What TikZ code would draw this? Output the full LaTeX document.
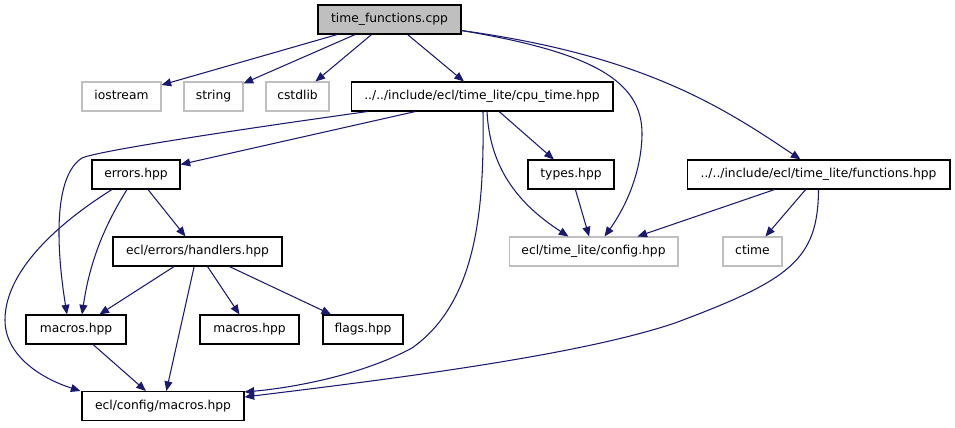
\documentclass[tikz,border=0pt]{standalone}
\usepackage{fontspec}
\setmainfont{DejaVu Sans}
\usetikzlibrary{arrows.meta,calc}
\definecolor{edge}{HTML}{191970}
\definecolor{rootfill}{HTML}{BFBFBF}
\definecolor{sysline}{HTML}{BFBFBF}
\tikzset{
  hdr/.style={draw=black,fill=white,line width=0.6pt,minimum height=0.58cm,inner sep=0pt,
    text height=5.3pt,text depth=1.6pt,font=\fontsize{7}{8}\selectfont},
  sys/.style={hdr,draw=sysline},
  src/.style={hdr,fill=rootfill},
  dep/.style={-{Triangle[length=5.5pt,width=4.5pt]},edge,line width=0.6pt},
}
\begin{document}
\begin{tikzpicture}[x=0.02cm,y=-0.02cm]
\useasboundingbox (0,0) rectangle (955,427);
% row 0
\node[src,minimum width=2.86cm] (root) at (389.5,19.5) {time\_functions.cpp};
% row 1
\node[sys,minimum width=1.58cm] (iostr) at (121.5,96.5) {iostream};
\node[sys,minimum width=1.18cm] (str) at (213.5,96.5) {string};
\node[sys,minimum width=1.26cm] (cstd) at (297.5,96.5) {cstdlib};
\node[hdr,minimum width=5.24cm] (cpu) at (482,96.5) {../../include/ecl/time\_lite/cpu\_time.hpp};
% row 2
\node[hdr,minimum width=1.76cm] (err) at (136,174.5) {errors.hpp};
\node[hdr,minimum width=1.72cm] (typ) at (571,174.5) {types.hpp};
\node[hdr,minimum width=5.26cm] (fun) at (818.5,174.5) {../../include/ecl/time\_lite/functions.hpp};
% row 3
\node[hdr,minimum width=3.38cm] (hnd) at (197.5,251.5) {ecl/errors/handlers.hpp};
\node[sys,minimum width=3.38cm] (conf) at (593.5,251.5) {ecl/time\_lite/config.hpp};
\node[sys,minimum width=1.18cm] (ctm) at (752.5,251.5) {ctime};
% row 4
\node[hdr,minimum width=2.0cm] (mcl) at (76,329.5) {macros.hpp};
\node[hdr,minimum width=1.98cm] (mcm) at (249.5,329.5) {macros.hpp};
\node[hdr,minimum width=1.6cm] (flg) at (363,329.5) {flags.hpp};
% row 5
\node[hdr,minimum width=3.24cm] (cfm) at (163,406) {ecl/config/macros.hpp};

% straight edges
\draw[dep] (root) -- (iostr);
\draw[dep] (root) -- (str);
\draw[dep] (root) -- (cstd);
\draw[dep] (root) -- (cpu);
\draw[dep] (cpu) -- (err);
\draw[dep] (cpu) -- (typ);
\draw[dep] (typ) -- (conf);
\draw[dep] (err) -- (hnd);
\draw[dep] (hnd) -- (mcl);
\draw[dep] (hnd) -- (cfm);
\draw[dep] (hnd) -- (mcm);
\draw[dep] (hnd) -- (flg);
\draw[dep] (mcl) -- (cfm);
\draw[dep] (fun) -- (conf);
\draw[dep] (fun) -- (ctm);

% curved edges
\draw[dep] ($(root.south east)+(0,-4)$) .. controls (590,52) and (643,80) .. (642,135)
  .. controls (641,180) and (620,215) .. ($(conf.north)+(11,0)$);
\draw[dep] ($(root.south east)+(0,-4)$) .. controls (640,55) and (720,105) .. ($(fun.north)+(-18,0)$);
\draw[dep] ($(cpu.south)+(5,0)$) .. controls (490,170) and (520,205) .. ($(conf.north)+(-25,0)$);
\draw[dep] ($(cpu.south)+(1,0)$) .. controls (484,200) and (480,300) .. (412,348)
  .. controls (360,376) and (290,388) .. ($(cfm.north east)+(0,1)$);
\draw[dep] (fun.south) .. controls (818,260) and (790,280) .. (675,323)
  .. controls (580,355) and (400,378) .. ($(cfm.north east)+(0,6)$);
\draw[dep] ($(cpu.south west)+(17,0)$) .. controls (200,135) and (95,152) .. (82,158)
  .. controls (55,175) and (55,240) .. ($(mcl.north)+(-9,0)$);
\draw[dep] ($(err.south)+(-9,0)$) .. controls (105,225) and (90,260) .. ($(mcl.north)+(6,0)$);
\draw[dep] ($(err.south)+(-24,0)$) .. controls (60,222) and (5,270) .. (5,320)
  .. controls (5,355) and (40,378) .. ($(cfm.north west)+(-1,0)$);
\end{tikzpicture}
\end{document}
